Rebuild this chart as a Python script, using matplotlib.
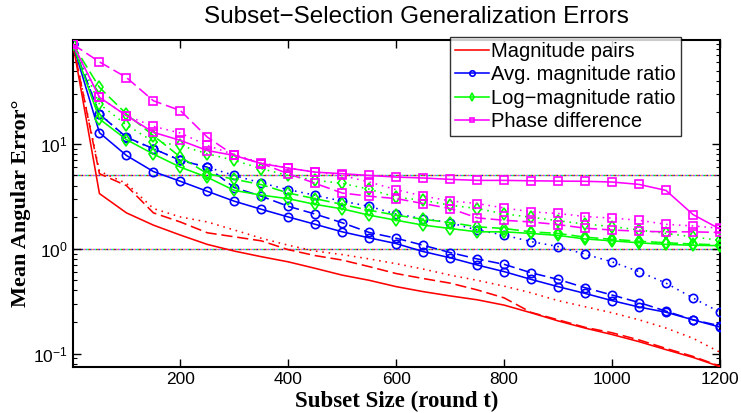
import matplotlib
matplotlib.use("Agg")
import matplotlib.pyplot as plt
from matplotlib.ticker import LogLocator, NullFormatter, FixedLocator

# subset sizes (round t)
subset_size = [1, 50, 100, 150, 200, 250, 300, 350, 400, 450, 500, 550, 600,
               650, 700, 750, 800, 850, 900, 950, 1000, 1050, 1100, 1150, 1200]

# magnitude pairs (solid / dashed / dotted)
mag_pairs_a = [89, 3.36, 2.20, 1.68, 1.35, 1.10, 0.95, 0.84, 0.75, 0.65, 0.56, 0.50, 0.435,
               0.39, 0.355, 0.326, 0.29, 0.245, 0.205, 0.175, 0.152, 0.13, 0.109, 0.092, 0.075]
mag_pairs_b = [89, 5.2, 4.0, 2.2, 1.8, 1.42, 1.30, 1.19, 0.98, 0.86, 0.78, 0.675, 0.58,
               0.52, 0.47, 0.405, 0.34, 0.247, 0.21, 0.178, 0.158, 0.135, 0.112, 0.094, 0.076]
mag_pairs_c = [89, 5.5, 4.2, 2.42, 2.01, 1.80, 1.51, 1.26, 1.08, 0.95, 0.88, 0.80, 0.72,
               0.64, 0.56, 0.50, 0.44, 0.38, 0.32, 0.28, 0.245, 0.21, 0.175, 0.14, 0.103]

# avg. magnitude ratio
avg_ratio_a = [89, 12.8, 7.76, 5.45, 4.4, 3.53, 2.84, 2.38, 2.01, 1.71, 1.45, 1.27, 1.12,
               0.94, 0.82, 0.70, 0.605, 0.51, 0.435, 0.375, 0.32, 0.278, 0.248, 0.21, 0.179]
avg_ratio_b = [89, 19.2, 11.6, 9.0, 6.96, 6.0, 3.83, 3.17, 2.54, 2.14, 1.77, 1.43, 1.26,
               1.08, 0.92, 0.80, 0.71, 0.59, 0.51, 0.425, 0.362, 0.307, 0.254, 0.21, 0.184]
avg_ratio_c = [89, 19.5, 11.4, 9.0, 6.96, 6.0, 5.0, 4.24, 3.66, 3.24, 2.84, 2.54, 2.14,
               1.94, 1.77, 1.51, 1.35, 1.17, 1.05, 0.887, 0.75, 0.605, 0.47, 0.339, 0.248]

# log-magnitude ratio
log_ratio_a = [89, 17.3, 11.0, 8.0, 6.0, 4.8, 3.6, 3.25, 3.0, 2.65, 2.40, 2.09, 1.87,
               1.68, 1.56, 1.45, 1.45, 1.40, 1.34, 1.24, 1.19, 1.14, 1.10, 1.08, 1.07]
log_ratio_b = [89, 34.6, 19.3, 12.0, 7.5, 5.2, 4.6, 4.09, 3.4, 3.0, 2.65, 2.33, 2.09,
               1.91, 1.78, 1.62, 1.56, 1.45, 1.40, 1.29, 1.23, 1.18, 1.14, 1.11, 1.09]
log_ratio_c = [89, 24, 15.2, 10.5, 9.66, 8.05, 6.96, 5.8, 5.0, 4.5, 4.2, 3.7, 3.1,
               2.9, 2.6, 2.42, 2.15, 2.0, 1.85, 1.72, 1.63, 1.51, 1.40, 1.30, 1.20]

# phase difference
phase_a = [89, 27.8, 18.6, 12.9, 10.8, 8.65, 7.76, 6.5, 5.88, 5.38, 5.2, 5.0, 4.83,
           4.73, 4.59, 4.49, 4.49, 4.45, 4.42, 4.4, 4.33, 4.11, 3.6, 2.12, 1.54]
phase_b = [89, 60.6, 43, 25.8, 20.8, 11.6, 7.76, 6.5, 5.2, 4.2, 3.4, 3.17, 3.01,
           2.70, 2.42, 1.97, 1.87, 1.80, 1.70, 1.57, 1.51, 1.47, 1.45, 1.45, 1.43]
phase_c = [89, 27.8, 18.6, 14.7, 12.7, 9.66, 7.9, 6.6, 5.9, 5.4, 5.0, 4.33, 3.66,
           3.18, 2.86, 2.70, 2.45, 2.25, 2.17, 2.03, 1.96, 1.87, 1.71, 1.65, 1.57]

# reference levels drawn as dotted lines
ref_levels = [5, 1]

legend_labels = ['Magnitude pairs', 'Avg. magnitude ratio',
                 'Log\u2212magnitude ratio', 'Phase difference']

fig = plt.figure(figsize=(7.41, 4.13), dpi=100)
ax = fig.add_axes([73 / 741, 1 - 367 / 413, 647 / 741, 327 / 413])

# reference lines: overlapping multicolour dots
dot_colors = ['#0000ff', '#ff0000', '#00cc00', '#00cccc', '#ff00ff', '#cccc00']
for level in ref_levels:
    for i, c in enumerate(dot_colors):
        ax.axhline(level, color=c, lw=1.0, linestyle=(i * 1.0, (1, 5)), zorder=1)

groups = [
    ('#ff0000', None, [mag_pairs_a, mag_pairs_b, mag_pairs_c]),
    ('#0000ff', 'o', [avg_ratio_a, avg_ratio_b, avg_ratio_c]),
    ('#00ff00', 'd', [log_ratio_a, log_ratio_b, log_ratio_c]),
    ('#ff00ff', 's', [phase_a, phase_b, phase_c]),
]
styles = ['-', (0, (7, 3)), (0, (1, 3))]

handles = []
for color, marker, series in groups:
    for k, values in enumerate(series):
        line, = ax.plot(subset_size, values, color=color, linestyle=styles[k],
                        lw=1.15, marker=marker, markersize=6 if marker != 's' else 5.5,
                        markerfacecolor='none', markeredgewidth=1.2, zorder=3)
        if k == 0:
            handles.append(line)

ax.set_yscale('log')
ax.set_xlim(1, 1200)
ax.set_ylim(0.0745, 98)

ax.xaxis.set_major_locator(FixedLocator([200, 400, 600, 800, 1000, 1200]))
ax.yaxis.set_major_locator(LogLocator(base=10))
ax.yaxis.set_minor_locator(LogLocator(base=10, subs=range(2, 10)))
ax.yaxis.set_minor_formatter(NullFormatter())
ax.tick_params(which='both', direction='in', top=True, right=True, labelsize=12.5)
ax.tick_params(which='major', length=6, width=1)
ax.tick_params(which='minor', length=3, width=0.8)
for lbl in ax.get_xticklabels() + ax.get_yticklabels():
    lbl.set_family('Liberation Sans')
for spine in ax.spines.values():
    spine.set_linewidth(1.5)

ax.set_xlabel('Subset Size (round t)', family='Liberation Serif', fontweight='bold',
              fontsize=16.5, labelpad=3)
ax.set_ylabel('Mean Angular Error\u00b0', family='Liberation Serif', fontweight='bold',
              fontsize=16, labelpad=2)
fig.text(416 / 741, 1 - 17 / 413, 'Subset\u2212Selection Generalization Errors',
         family='Liberation Sans', fontsize=17.5, ha='center', va='center')

leg = ax.legend(handles, legend_labels, loc='upper right', bbox_to_anchor=(0.94, 1.01),
                prop={'family': 'Liberation Sans', 'size': 14.5}, frameon=True,
                fancybox=False, edgecolor='k', handlelength=1.7, handletextpad=0.1,
                labelspacing=0.22, borderpad=0.25, borderaxespad=0, markerscale=0.65)
leg.get_frame().set_linewidth(1.0)
leg.set_zorder(5)

fig.savefig('out.png', dpi=100)
